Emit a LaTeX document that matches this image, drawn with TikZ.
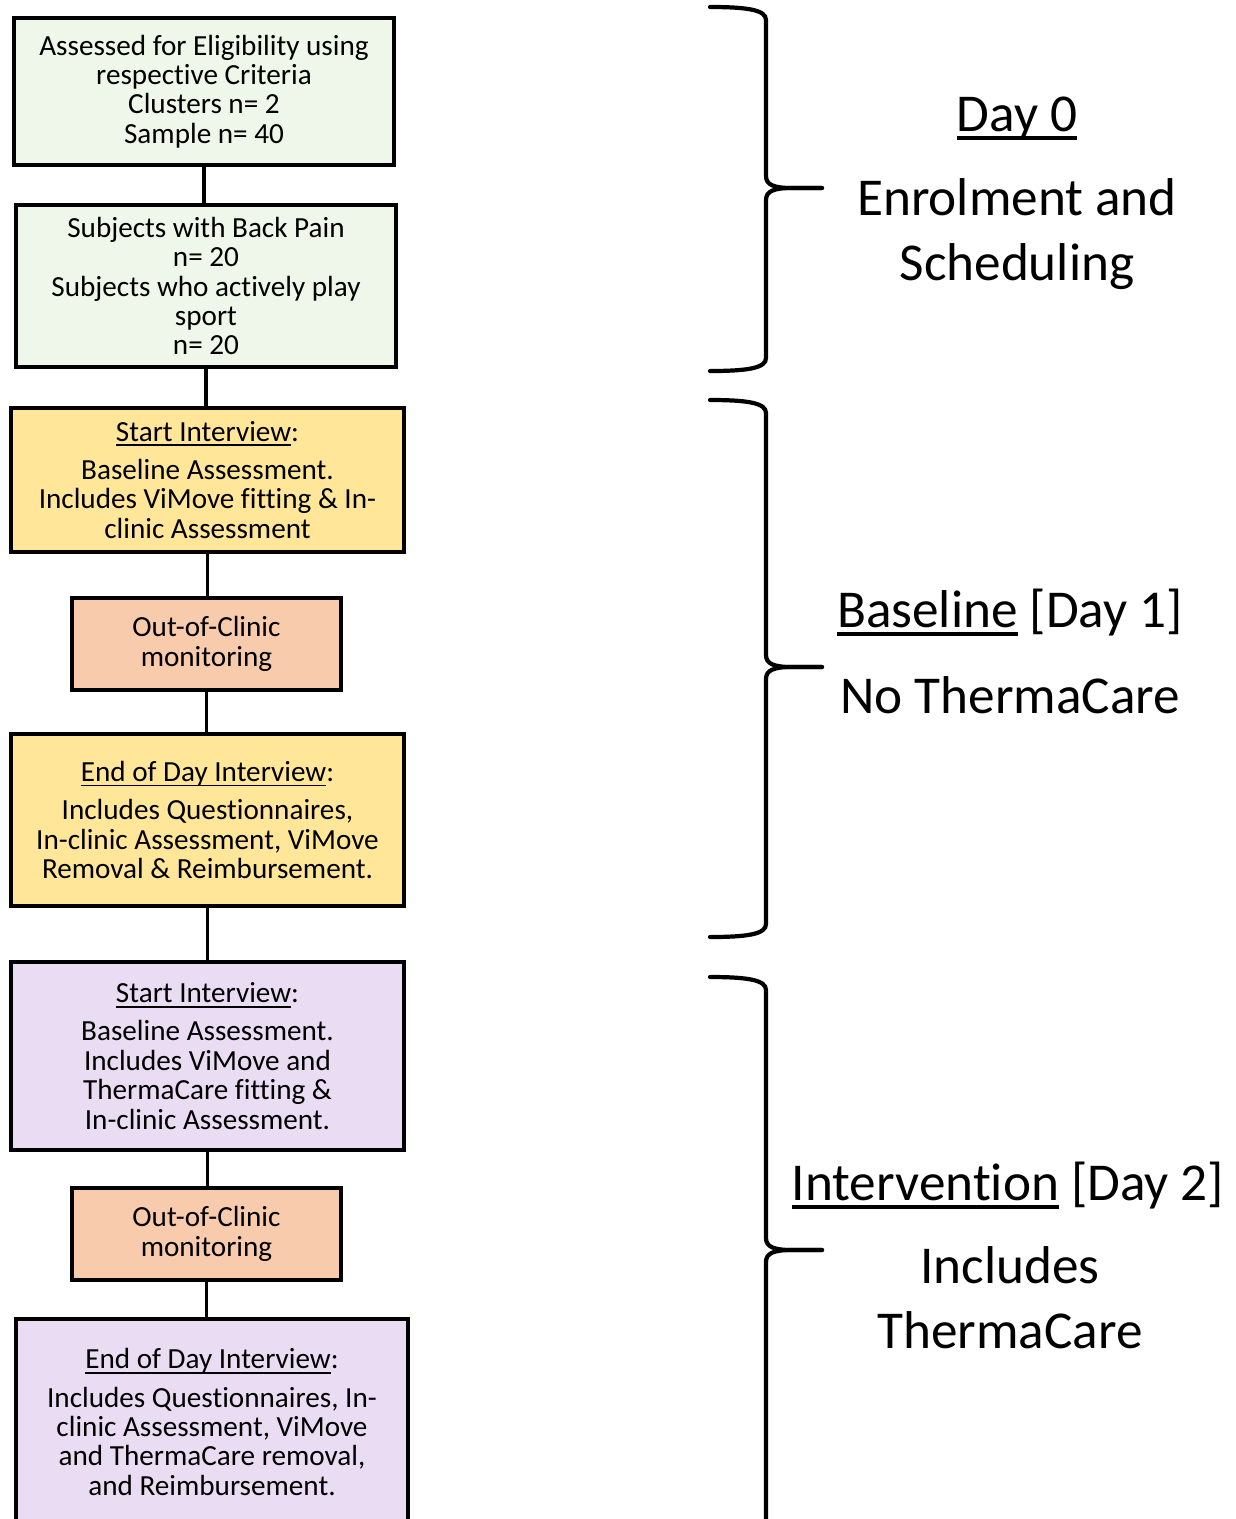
\documentclass[tikz,border=0pt]{standalone}
\usepackage{fontspec}
\setmainfont{Carlito}[Ligatures=NoCommon]
\definecolor{boxgreen}{HTML}{EFF7EA}
\definecolor{boxyellow}{HTML}{FFE699}
\definecolor{boxpeach}{HTML}{F8CBAD}
\definecolor{boxlilac}{HTML}{EADDF3}
\newsavebox\ulbox
\newcommand\ulin[1]{\sbox\ulbox{#1}\rlap{\rule[-0.16em]{\wd\ulbox}{0.06em}}\usebox\ulbox}
\newcommand\boxfont{\fontsize{16.6}{16.7}\selectfont}
\newcommand\sidefont{\fontsize{30.3}{37}\selectfont}

\begin{document}
\begin{tikzpicture}[x=0.02cm, y=-0.02cm,
bx/.style = {draw,line width=2.2pt,align=center,inner sep=0pt,font=\boxfont},
grn/.style = {bx,fill=boxgreen},
yel/.style = {bx,fill=boxyellow},
pch/.style = {bx,fill=boxpeach,minimum width=5.38cm,minimum height=1.84cm},
lil/.style = {bx,fill=boxlilac},
lnk/.style = {draw,line width=2.2pt},
brc/.style = {draw,line width=2.4pt,line cap=round},
side/.style = {align=center,font=\sidefont,inner sep=0pt}
]
  \clip (0,0) rectangle (1236,1519);

  \node[grn,minimum width=7.6cm,minimum height=2.94cm] (elig) at (204,91.5)
    {Assessed for Eligibility using\\respective Criteria\\Clusters n= 2\\Sample n= 40};
  \node[grn,minimum width=7.6cm,minimum height=3.24cm] (groups) at (206,286)
    {Subjects with Back Pain\\n= 20\\Subjects who actively play\\sport\\n= 20};
  \node[yel,minimum width=7.86cm,minimum height=2.88cm] (start1) at (207.5,480)
    {\ulin{Start Interview}:\\[5pt]Baseline Assessment.\\Includes ViMove fitting \& In-\\clinic Assessment};
  \node[pch] (out1) at (206.5,644) {Out-of-Clinic\\monitoring};
  \node[yel,minimum width=7.86cm,minimum height=3.44cm] (end1) at (207.5,820)
    {\ulin{End of Day Interview}:\\[5pt]Includes Questionnaires,\\In-clinic Assessment, ViMove\\Removal \& Reimbursement.};
  \node[lil,minimum width=7.86cm,minimum height=3.76cm] (start2) at (207.5,1056)
    {\ulin{Start Interview}:\\[5pt]Baseline Assessment.\\Includes ViMove and\\ThermaCare fitting \&\\In-clinic Assessment.};
  \node[pch] (out2) at (206.5,1234) {Out-of-Clinic\\monitoring};
  \node[lil,minimum width=7.84cm,minimum height=4.12cm] (end2) at (212,1422)
    {\ulin{End of Day Interview}:\\[5pt]Includes Questionnaires, In-\\clinic Assessment, ViMove\\and ThermaCare removal,\\and Reimbursement.};

  \path[lnk] (elig.south)--(elig.south |- groups.north);
  \path[lnk] (groups.south)--(groups.south |- start1.north);
  \path[lnk] (start1.south)--(start1.south |- out1.north);
  \path[lnk] (out1.south)--(out1.south |- end1.north);
  \path[lnk] (end1.south)--(end1.south |- start2.north);
  \path[lnk] (start2.south)--(start2.south |- out2.north);
  \path[lnk] (out2.south)--(out2.south |- end2.north);

  % braces
  \draw[brc] (822,188) -- (792,188) .. controls (774,188) and (766,185) .. (766,176) -- (766,20) .. controls (766,10) and (748,7) .. (710,7);
  \draw[brc] (822,188) -- (792,188) .. controls (774,188) and (766,191) .. (766,200) -- (766,358) .. controls (766,368) and (748,371) .. (710,371);
  \draw[brc] (822,667) -- (792,667) .. controls (774,667) and (766,664) .. (766,655) -- (766,413) .. controls (766,403) and (748,400) .. (710,400);
  \draw[brc] (822,667) -- (792,667) .. controls (774,667) and (766,670) .. (766,679) -- (766,924) .. controls (766,934) and (748,937) .. (710,937);
  \draw[brc] (822,1250) -- (792,1250) .. controls (774,1250) and (766,1247) .. (766,1238) -- (766,990) .. controls (766,980) and (748,977) .. (710,977);
  \draw[brc] (822,1250) -- (792,1250) .. controls (774,1250) and (766,1253) .. (766,1262) -- (766,1530);

  \node[side,anchor=base] (day0) at (1017,131) {\ulin{Day 0}};
  \node[side] (day0txt) at (1017,234) {Enrolment and\\Scheduling};
  \node[side,anchor=base] (day1) at (1010,627) {\ulin{Baseline} [Day 1]};
  \node[side,anchor=base] (day1txt) at (1010,713) {No ThermaCare};
  \node[side,anchor=base] (day2) at (1008,1200) {\ulin{Intervention} [Day 2]};
  \node[side] (day2txt) at (1010,1298) {Includes\\ThermaCare};
\end{tikzpicture}
\end{document}
